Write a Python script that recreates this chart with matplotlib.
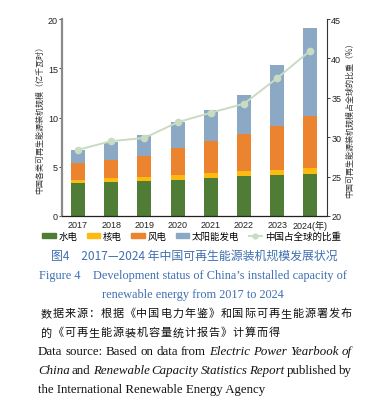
import matplotlib
matplotlib.use("Agg")
import matplotlib.pyplot as plt
from matplotlib.patches import Patch
from matplotlib.lines import Line2D
import numpy as np

plt.rcParams['font.family'] = ['Liberation Sans', 'Noto Sans CJK SC']

years = ["2017", "2018", "2019", "2020", "2021", "2022", "2023", "2024(年)"]
hydro = [3.35, 3.45, 3.55, 3.65, 3.86, 4.06, 4.16, 4.26]
nuclear = [0.30, 0.41, 0.41, 0.51, 0.50, 0.51, 0.51, 0.61]
wind = [1.73, 1.83, 2.13, 2.74, 3.25, 3.75, 4.47, 5.28]
solar = [1.32, 1.82, 2.13, 2.64, 3.15, 3.96, 6.19, 8.94]
share = [28.4, 29.5, 29.9, 31.9, 33.1, 34.25, 37.5, 41.0]
legend_labels = ["水电", "核电", "风电", "太阳能发电", "中国占全球的比重"]

c_hydro = "#4f7d35"
c_nuc = "#fdbb12"
c_wind = "#ec842f"
c_solar = "#8ba9c5"
c_line = "#c9dcc2"

W, H = 372, 406
fig = plt.figure(figsize=(W/100, H/100), dpi=100)
ax = fig.add_axes([62/W, 1-217/H, (327-62)/W, (217-20)/H])

x = np.arange(len(years))
bw = 0.42
b1 = np.array(hydro)
b2 = b1 + np.array(nuclear)
b3 = b2 + np.array(wind)
ax.bar(x, hydro, bw, color=c_hydro, zorder=2)
ax.bar(x, nuclear, bw, bottom=b1, color=c_nuc, zorder=2)
ax.bar(x, wind, bw, bottom=b2, color=c_wind, zorder=2)
ax.bar(x, solar, bw, bottom=b3, color=c_solar, zorder=2)
ax.set_xlim(-0.48, 7.5)
ax.set_ylim(0, 20)
ax.set_yticks([0, 5, 10, 15, 20])
ax.set_xticks(x)
ax.set_xticklabels(years)
ax.spines['top'].set_visible(False)
ax.spines['right'].set_visible(False)
ax.spines['left'].set_color('#8a8a8a')
ax.spines['left'].set_linewidth(1.6)
ax.spines['bottom'].set_color('#222222')
ax.spines['bottom'].set_linewidth(0.9)
ax.tick_params(axis='y', length=2, width=0.6, labelsize=6.5, pad=1, colors='#222222')
ax.tick_params(axis='x', length=0, labelsize=6.5, pad=3, colors='#222222')
ax.set_ylabel("中国各类可再生能源装机规模（亿千瓦时）", fontsize=5.8, color='#333333', labelpad=3,
              family='Noto Sans CJK SC')

ax2 = ax.twinx()
ax2.plot(x, share, color=c_line, lw=1.4, marker='o', ms=4.5, mfc=c_line, mec=c_line, zorder=3)
ax2.set_ylim(20, 45)
ax2.set_yticks([20, 25, 30, 35, 40, 45])
for s in ['top', 'left', 'bottom']:
    ax2.spines[s].set_visible(False)
ax2.spines['right'].set_color('#333333')
ax2.spines['right'].set_linewidth(0.8)
ax2.tick_params(axis='y', length=2, width=0.6, labelsize=6.5, pad=1, colors='#222222')
ax2.set_ylabel("中国可再生能源装机规模占全球的比重（%）", fontsize=5.8, color='#333333', labelpad=3,
               family='Noto Sans CJK SC')

handles = [Patch(color=c_hydro), Patch(color=c_nuc), Patch(color=c_wind), Patch(color=c_solar),
           Line2D([0], [0], color=c_line, lw=1.4, marker='o', ms=3.5)]
fig.legend(handles, legend_labels, loc='center', bbox_to_anchor=(0.515, 1-237/H), ncol=5,
           frameon=False, fontsize=6.8, handlelength=1.4, handleheight=0.5, handletextpad=0.3,
           columnspacing=1.0, borderpad=0, prop={'family': 'Noto Sans CJK SC', 'size': 6.8})

blue = "#3f6fb0"
fig.text(194/W, 1-256/H, "图4　2017—2024 年中国可再生能源装机规模发展状况", ha='center', va='center',
         fontsize=8.6, color=blue, family='Noto Sans CJK SC')
fig.text(193/W, 1-276/H, "Figure 4    Development status of China\u2019s installed capacity of", ha='center',
         va='center', fontsize=8.8, color=blue, family='Liberation Serif')
fig.text(193/W, 1-295/H, "renewable energy from 2017 to 2024", ha='center', va='center', fontsize=8.8,
         color=blue, family='Liberation Serif')

fig.canvas.draw()
renderer = fig.canvas.get_renderer()

def justified(segments, x0, x1, y, **kw):
    words = []
    for txt, style in segments:
        for w in txt.split(' '):
            if w:
                words.append((w, style))
    objs = []
    widths = []
    for w, style in words:
        t = fig.text(0, y, w, va='center', fontstyle=style, **kw)
        bb = t.get_window_extent(renderer)
        objs.append(t)
        widths.append(bb.width / fig.bbox.width)
    total = sum(widths)
    n = len(words) - 1
    gap = (x1 - x0 - total) / n
    xc = x0
    for t, wdt in zip(objs, widths):
        t.set_x(xc)
        xc += wdt + gap

def spaced(text, x0, pitch, y, **kw):
    for i, ch in enumerate(text):
        fig.text(x0 + i * pitch, y, ch, va='center', ha='center', **kw)

cjk_kw = dict(fontsize=8.0, color='#111111', family='Noto Sans CJK SC')
pitch = 12.0 / W
spaced("数据来源：根据《中国电力年鉴》和国际可再生能源署发布", 46/W, pitch, 1-314/H, **cjk_kw)
spaced("的《可再生能源装机容量统计报告》计算而得", 46/W, pitch, 1-333/H, **cjk_kw)

en_kw = dict(fontsize=9.3, color='#111111', family='Liberation Serif')
justified([("Data source: Based on data from", 'normal'), ("Electric Power Yearbook of", 'italic')],
          38/W, 352/W, 1-352/H, **en_kw)
justified([("China", 'italic'), ("and", 'normal'), ("Renewable Capacity Statistics Report", 'italic'),
           ("published by", 'normal')], 38/W, 352/W, 1-371/H, **en_kw)
fig.text(38/W, 1-390/H, "the International Renewable Energy Agency", va='center', **en_kw)

fig.savefig("out.png", dpi=100)
